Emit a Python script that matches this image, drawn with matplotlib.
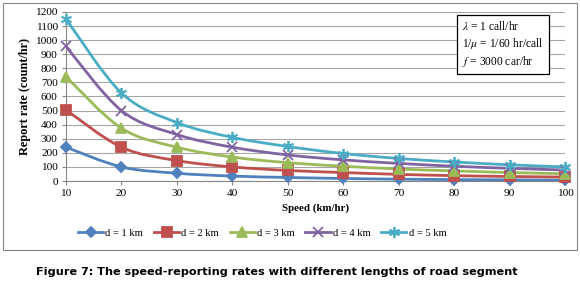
import numpy as np
import matplotlib.pyplot as plt
from matplotlib.path import Path
from matplotlib.patches import PathPatch, Rectangle
from matplotlib.lines import Line2D

plt.rcParams.update({
    "font.family": "Liberation Serif",
    "font.size": 8,
    "mathtext.fontset": "stix",
})

# -----------------------------
#  Data
# -----------------------------
speed = [10, 20, 30, 40, 50, 60, 70, 80, 90, 100]
d1 = [240, 100, 55, 35, 25, 18, 13, 10, 8, 6]
d2 = [505, 240, 145, 100, 75, 60, 47, 38, 32, 28]
d3 = [740, 375, 240, 170, 130, 105, 85, 72, 60, 52]
d4 = [955, 500, 330, 240, 185, 150, 125, 105, 90, 78]
d5 = [1150, 625, 415, 310, 245, 195, 160, 135, 115, 100]
labels = ["d = 1 km", "d = 2 km", "d = 3 km", "d = 4 km", "d = 5 km"]

colors = ["#4F81BD", "#C0504D", "#9BBB59", "#8064A2", "#4BACC6"]
markers = ["D", "s", "^", "x", (6, 2, 0)]
msizes = [5, 7, 6.5, 7, 8]


def smooth_path(x, y):
    # Excel-style smoothed line: cubic Bezier through the points
    pts = np.column_stack([np.asarray(x, float), np.asarray(y, float)])
    verts = [pts[0]]
    codes = [Path.MOVETO]
    n = len(pts)
    for i in range(n - 1):
        p0 = pts[max(i - 1, 0)]
        p1 = pts[i]
        p2 = pts[i + 1]
        p3 = pts[min(i + 2, n - 1)]
        verts += [p1 + (p2 - p0) / 6, p2 - (p3 - p1) / 6, p2]
        codes += [Path.CURVE4] * 3
    return Path(verts, codes)


fig = plt.figure(figsize=(5.8, 2.89), dpi=100)
ax = fig.add_axes([0.1138, 0.3737, 0.8603, 0.5848])

for ys, c, m, ms in zip([d1, d2, d3, d4, d5], colors, markers, msizes):
    ax.add_patch(PathPatch(smooth_path(speed, ys), fill=False, edgecolor=c,
                           lw=2.0, zorder=3))
    ax.plot(speed, ys, linestyle="none", marker=m, color=c, ms=ms,
            mew=1.3, zorder=4, clip_on=False)

ax.set_xlim(10, 100)
ax.set_ylim(0, 1200)
ax.set_xticks(speed)
ax.set_yticks(np.arange(0, 1201, 100))
ax.yaxis.grid(True, color="#A6A6A6", lw=0.8)
ax.set_axisbelow(True)
for s in ["top", "right"]:
    ax.spines[s].set_visible(False)
for s in ["left", "bottom"]:
    ax.spines[s].set_color("#868686")
ax.tick_params(axis="both", color="#868686", length=3, pad=3, labelsize=8.2)
ax.set_xlabel("Speed (km/hr)", fontweight="bold", labelpad=4, fontsize=7.8)
ax.set_ylabel("Report rate (count/hr)", fontweight="bold", labelpad=3,
              fontsize=8.8)

ax.text(0.793, 0.955,
        "$\\lambda$ = 1 call/hr\n1/$\\mu$ = 1/60 hr/call\n$f$ = 3000 car/hr",
        transform=ax.transAxes, va="top", ha="left", fontsize=8.3,
        linespacing=1.3,
        bbox=dict(boxstyle="square,pad=0.45", fc="white", ec="black", lw=0.9))

handles = [Line2D([], [], color=c, marker=m, ms=ms, lw=2.0, mew=1.3)
           for c, m, ms in zip(colors, markers, msizes)]
fig.legend(handles, labels, loc="center", bbox_to_anchor=(0.452, 1 - 233 / 289),
           ncol=5, frameon=False, handlelength=2.4, columnspacing=1.0,
           handletextpad=0.2, fontsize=7.6)

# outer chart border
fig.add_artist(Rectangle((3 / 580, 1 - 250 / 289), 574 / 580, 247 / 289,
                         transform=fig.transFigure, fill=False,
                         ec="#868686", lw=0.8))

fig.text(0.477, 1 - 272 / 289,
         "Figure 7: The speed-reporting rates with different lengths of road segment",
         ha="center", va="center", family="DejaVu Sans", fontweight="bold",
         fontsize=8.1)

fig.savefig("out.png", dpi=100)
